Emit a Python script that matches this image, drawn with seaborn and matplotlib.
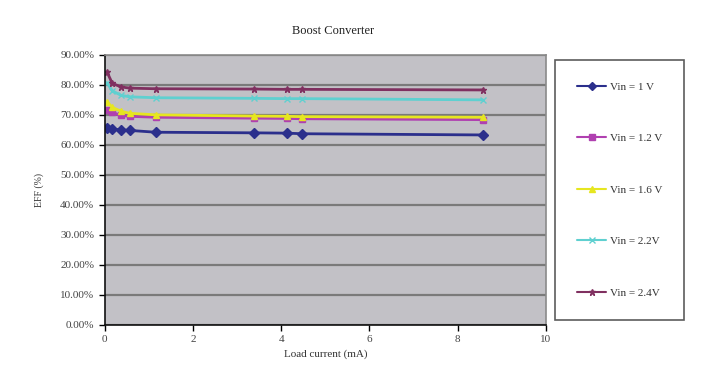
import pandas as pd
import matplotlib
matplotlib.use("Agg")
import matplotlib.pyplot as plt
import seaborn as sns

# load current (mA) at each measurement
load_ma = [0.05, 0.17, 0.37, 0.57, 1.16, 3.38, 4.12, 4.48, 8.57]

# efficiency (%) per input voltage
eff_1v0 = [65.5, 65.2, 65.0, 64.8, 64.2, 64.0, 63.9, 63.7, 63.3]
eff_1v2 = [71.5, 70.8, 69.8, 69.5, 69.2, 68.9, 68.8, 68.7, 68.4]
eff_1v6 = [74.3, 72.5, 71.2, 70.5, 70.0, 69.6, 69.5, 69.4, 69.2]
eff_2v2 = [80.7, 78.0, 76.5, 76.0, 75.7, 75.5, 75.4, 75.4, 75.0]
eff_2v4 = [84.3, 80.5, 79.3, 78.9, 78.7, 78.6, 78.5, 78.5, 78.3]

series_names = ["Vin = 1 V", "Vin = 1.2 V", "Vin = 1.6 V", "Vin = 2.2V", "Vin = 2.4V"]
series_vals = [eff_1v0, eff_1v2, eff_1v6, eff_2v2, eff_2v4]
colors = ["#2b2f8c", "#b040b0", "#e6e620", "#5fd0d0", "#803060"]
marks = ["D", "s", "^", "x", "*"]

rows = []
for name, vals in zip(series_names, series_vals):
    for x, y in zip(load_ma, vals):
        rows.append({"load": x, "eff": y / 100, "series": name})
df = pd.DataFrame(rows)

sns.set_style("white")
plt.rcParams["font.family"] = ["Liberation Serif", "DejaVu Serif"]

fig = plt.figure(figsize=(7.08, 3.89), dpi=100)
ax = fig.add_axes([0.148, 0.165, 0.623, 0.694])
ax.set_facecolor("#c2c1c6")

for name, c, m in zip(series_names, colors, marks):
    sub = df[df["series"] == name]
    sns.lineplot(data=sub, x="load", y="eff", color=c, marker=m,
                 markersize=5, linewidth=2.0, markeredgewidth=1.0,
                 markeredgecolor=c, ax=ax, label=name, legend=False)

ax.set_xlim(0, 10)
ax.set_ylim(0, 0.9)
ax.set_xticks([0, 2, 4, 6, 8, 10])
ax.set_yticks([i / 10 for i in range(10)])
ax.set_yticklabels([f"{i * 10:.2f}%" for i in range(10)])
ax.yaxis.grid(True, color="#7a7a7a", linewidth=1.6)
ax.xaxis.grid(False)
ax.tick_params(axis="both", direction="out", length=4, labelsize=8, colors="#444444")
ax.tick_params(axis="both", color="#000000", width=1, left=True, bottom=True)
for side in ["left", "bottom"]:
    ax.spines[side].set_color("#111111")
    ax.spines[side].set_linewidth(1.2)
for side in ["top", "right"]:
    ax.spines[side].set_color("#8a8a8a")
    ax.spines[side].set_linewidth(1.2)

ax.set_xlabel("Load current (mA)", fontsize=8, color="#333333")
ax.set_ylabel("EFF (%)", fontsize=7, color="#333333", labelpad=12)
fig.text(0.47, 0.913, "Boost Converter", ha="center", fontsize=9, color="#222222")

handles = [plt.Line2D([], [], color=c, marker=m, markersize=4.5, linewidth=1.5)
           for c, m in zip(colors, marks)]
leg = fig.legend(handles, series_names, loc="upper left",
                 bbox_to_anchor=(0.784, 0.846), fontsize=8,
                 labelspacing=3.75, handlelength=2.6, handletextpad=0.3,
                 borderpad=2.0, borderaxespad=0, fancybox=False, frameon=True)
leg.get_frame().set_edgecolor("#333333")
leg.get_frame().set_linewidth(1.2)
for t in leg.get_texts():
    t.set_color("#333333")

fig.savefig("out.png", dpi=100, facecolor="white")
